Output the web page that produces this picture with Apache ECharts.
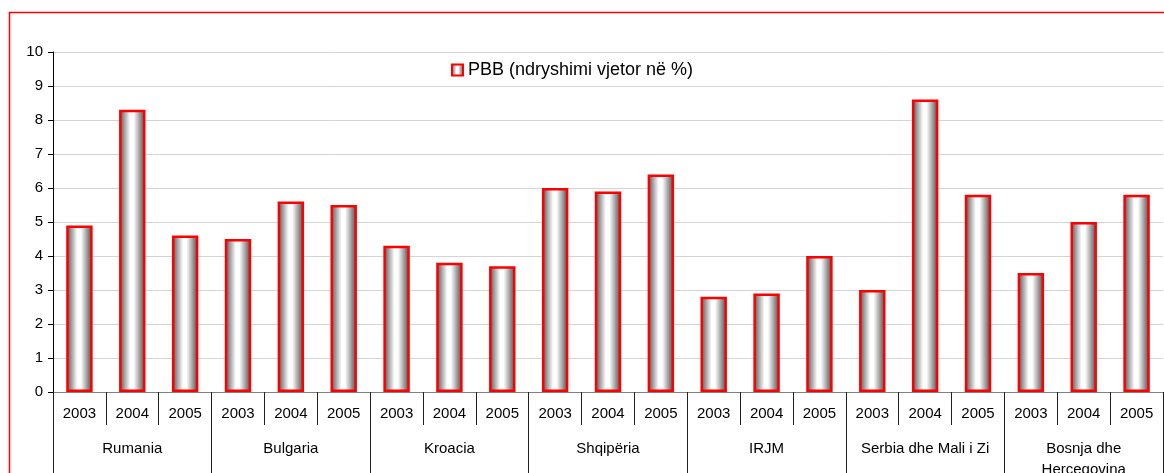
<!DOCTYPE html>
<html>
<head>
<meta charset="utf-8">
<script src="https://cdn.jsdelivr.net/npm/echarts@6/dist/echarts.min.js"></script>
<style>
  html, body { margin: 0; padding: 0; background: #fff; }
  #chart { width: 1164px; height: 473px; }
</style>
</head>
<body>
<div id="chart"></div>
<script>
// data
const countries = ['Rumania', 'Bulgaria', 'Kroacia', 'Shqipëria', 'IRJM', 'Serbia dhe Mali i Zi', 'Bosnja dhe\nHercegovina']
const years = ['2003', '2004', '2005']
const gdpGrowth = [
  4.9, 8.3, 4.6,
  4.5, 5.6, 5.5,
  4.3, 3.8, 3.7,
  6.0, 5.9, 6.4,
  2.8, 2.9, 4.0,
  3.0, 8.6, 5.8,
  3.5, 5.0, 5.8
]
const seriesName = 'PBB (ndryshimi vjetor në %)'

// one year label per bar
const yearCats = []
countries.forEach(function () {
  years.forEach(function (y) { yearCats.push(y) })
})

const font = 'Liberation Sans, Arial, sans-serif'
const chart = echarts.init(document.getElementById('chart'))

const barFill = new echarts.graphic.LinearGradient(0, 0, 1, 0, [
  { offset: 0, color: '#4a4a4a' },
  { offset: 0.42, color: '#ffffff' },
  { offset: 0.55, color: '#ffffff' },
  { offset: 1, color: '#444444' }
])

chart.setOption({
  backgroundColor: '#ffffff',
  animation: false,
  graphic: [
    {
      type: 'rect',
      shape: { x: 9.5, y: 12.5, width: 1300, height: 600 },
      style: { fill: 'none', stroke: '#ff0000', lineWidth: 1.5 },
      z: 100
    }
  ],
  legend: {
    left: 446,
    top: 56,
    itemWidth: 11,
    itemHeight: 11,
    itemGap: 4,
    icon: 'rect',
    textStyle: { fontFamily: font, fontSize: 18, color: '#000' },
    data: [seriesName]
  },
  grid: {
    left: 53,
    right: 1,
    top: 52,
    bottom: 81,
    containLabel: false,
    outerBoundsMode: 'none'
  },
  xAxis: [
    {
      type: 'category',
      data: yearCats,
      position: 'bottom',
      axisLine: { show: true, lineStyle: { color: '#808080', width: 1 } },
      axisTick: { show: true, length: 33, lineStyle: { color: '#202020' } },
      axisLabel: {
        interval: 0,
        margin: 14,
        fontFamily: font,
        fontSize: 15,
        color: '#000'
      }
    },
    {
      type: 'category',
      data: countries,
      position: 'bottom',
      axisLine: { show: false },
      axisTick: { show: true, length: 90, lineStyle: { color: '#202020' } },
      axisLabel: {
        interval: 0,
        margin: 46,
        fontFamily: font,
        fontSize: 15,
        lineHeight: 21,
        color: '#000'
      }
    }
  ],
  yAxis: {
    type: 'value',
    min: 0,
    max: 10,
    interval: 1,
    axisLine: { show: true, lineStyle: { color: '#000' } },
    axisTick: { show: true, length: 5, lineStyle: { color: '#000' } },
    axisLabel: {
      margin: 10,
      fontFamily: font,
      fontSize: 15,
      color: '#000'
    },
    splitLine: { show: true, lineStyle: { color: '#d4d4d4' } }
  },
  series: [
    {
      name: seriesName,
      type: 'bar',
      xAxisIndex: 0,
      barWidth: '50%',
      data: gdpGrowth,
      itemStyle: {
        color: barFill,
        borderColor: '#ff0000',
        borderWidth: 2.5
      }
    }
  ]
})
</script>
</body>
</html>
